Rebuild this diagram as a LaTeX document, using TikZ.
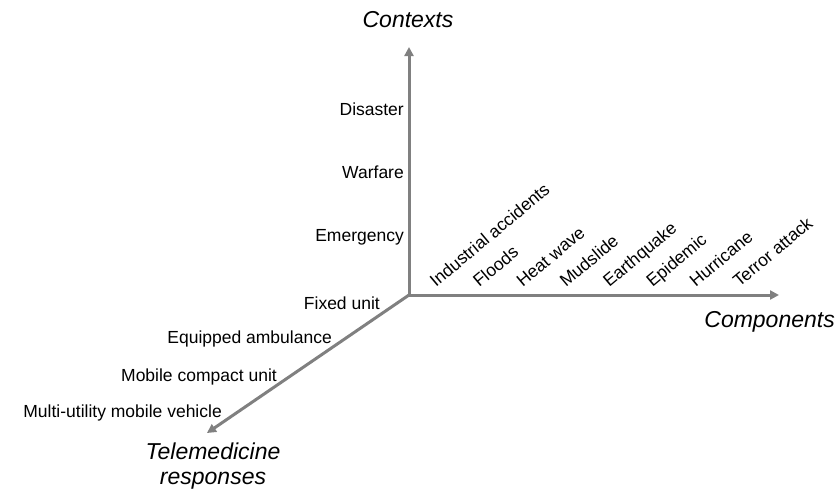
\documentclass[tikz,border=0pt]{standalone}
\usepackage{fontspec}
\setmainfont{Liberation Sans}
\usetikzlibrary{arrows.meta}
\begin{document}
\begin{tikzpicture}
	[x=1pt,y=-1pt,
	axis/.style={draw=gray,line width=3pt,-{Triangle[length=9pt,width=9pt]}},
	title/.style={font=\fontsize{23}{25}\selectfont\itshape,inner sep=0pt},
	lbl/.style={font=\fontsize{17.5}{20}\selectfont,inner sep=0pt}]
	\useasboundingbox (0,0) rectangle (838,491);
	\coordinate (O) at (409,295);
	\coordinate (ctx) at (409,47);
	\coordinate (cmp) at (779,295);
	\coordinate (tel) at (207,433);
	\draw[axis] (O)--(ctx);
	\draw[axis] (O)--(cmp);
	\draw[axis] (O)--(tel);
	% axis titles
	\node[title,name=contexts] at (408,20) {Contexts};
	\node[title,name=components,anchor=east] at (835,322) {Components};
	\node[title,name=telemed,align=center] at (213,466) {Telemedicine\\responses};
	% contexts
	\node[lbl,name=disaster,anchor=east] at (404,109) {Disaster};
	\node[lbl,name=warfare,anchor=east] at (404,172) {Warfare};
	\node[lbl,name=emergency,anchor=east] at (404,237) {Emergency};
	% responses
	\node[lbl,name=fixed,anchor=east] at (380,303) {Fixed unit};
	\node[lbl,name=ambulance,anchor=east] at (332,339) {Equipped ambulance};
	\node[lbl,name=compact,anchor=east] at (277,377) {Mobile compact unit};
	\node[lbl,name=vehicle,anchor=east] at (222,413) {Multi-utility mobile vehicle};
	% components
	\foreach \name [count=\i from 0] in {Industrial accidents,Floods,Heat wave,Mudslide,Earthquake,Epidemic,Hurricane,Terror attack}
		\node[lbl,name=comp\i,rotate=40,anchor=base west] at (436+43.3*\i,288) {\name};
\end{tikzpicture}
\end{document}
